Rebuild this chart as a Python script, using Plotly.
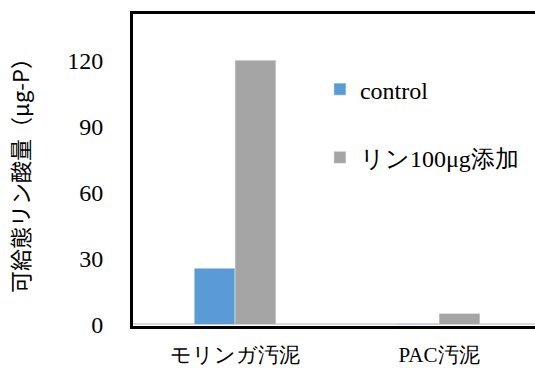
import plotly.graph_objects as go

categories = ["モリンガ汚泥", "PAC汚泥"]
control_vals = [25.5, 0.3]
added_vals = [120.0, 5.0]
series_names = ["control", "リン100μg添加"]
y_ticks = [0, 30, 60, 90, 120]

FONT = "serif"
JFONT = "Noto Sans CJK JP"

fig = go.Figure()
fig.add_trace(go.Bar(x=categories, y=control_vals, name=series_names[0],
                     marker_color="#5B9BD5", legendgroup="a"))
fig.add_trace(go.Bar(x=categories, y=added_vals, name=series_names[1],
                     marker_color="#A5A5A5", legendgroup="b"))

fig.update_layout(
    width=535, height=368,
    margin=dict(l=133, r=0, t=14, b=42, autoexpand=False),
    paper_bgcolor="white", plot_bgcolor="white",
    barmode="group", bargap=0.6, bargroupgap=0,
    font=dict(family=FONT, size=21, color="black"),
    legend=dict(x=0.465, y=0.83, xanchor="left", yanchor="top",
                tracegroupgap=34, font=dict(size=24, family=FONT),
                bgcolor="rgba(0,0,0,0)"),
    xaxis=dict(range=[-0.5, 1.47], showline=True, linecolor="black",
               linewidth=3, mirror=True, ticks="", showgrid=False,
               automargin=False, ticklabelstandoff=8,
               tickfont=dict(family=FONT, size=21)),
    yaxis=dict(range=[-0.7, 141], tickvals=y_ticks, showline=True,
               linecolor="black", linewidth=3, showgrid=False,
               zeroline=True, zerolinecolor="#D9D9D9", zerolinewidth=2,
               ticks="", ticklabelstandoff=22,
               automargin=False,
               tickfont=dict(family=FONT, size=24),
               title=dict(text="可給態リン酸量（μg-P）", standoff=32,
                          font=dict(family=JFONT, size=22))),
)
fig.write_html("out.html", config={"displayModeBar": False},
               post_script="document.body.style.margin='0';")
